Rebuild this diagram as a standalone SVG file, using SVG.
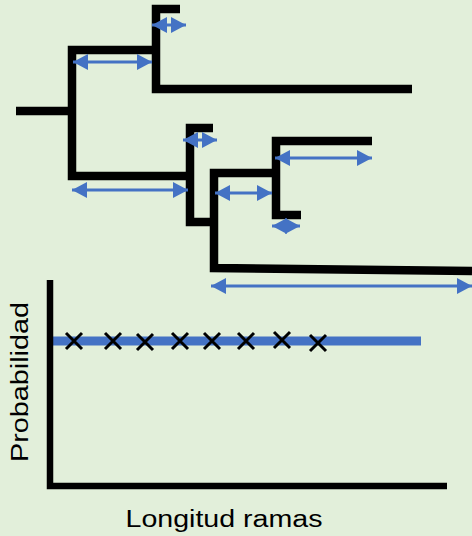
<svg xmlns="http://www.w3.org/2000/svg" width="472" height="536" viewBox="0 0 472 536">
<style>
.br{fill:none;stroke:#000;stroke-width:8.5;stroke-linejoin:miter;stroke-linecap:butt}
.ar{fill:none;stroke:#4472C4;stroke-width:3;marker-start:url(#ah);marker-end:url(#ah)}
.x{stroke:#000;stroke-width:3;fill:none}
.t{font-family:"Liberation Sans",Arial,sans-serif;font-size:23px;fill:#000}
</style>
<defs>
<marker id="ah" markerUnits="userSpaceOnUse" markerWidth="16" markerHeight="17" refX="15" refY="8" orient="auto-start-reverse" viewBox="0 0 16 17">
<path d="M0,0 L15,8 L0,16 z" fill="#4472C4"/>
</marker>
</defs>
<rect width="472" height="536" fill="#E2EFDA"/>
<g id="tree">
<g id="root"><path class="br" d="M16,111 H72"/></g>
<g id="nodeA"><path class="br" d="M160,50 H72 V176 H194"/></g>
<g id="nodeB"><path class="br" d="M180,9 H156 V89 H412"/></g>
<g id="nodeC"><path class="br" d="M213,128 H190 V222 H214"/></g>
<g id="nodeD"><path class="br" d="M276,173 H214 V268 L472,271"/></g>
<g id="nodeE"><path class="br" d="M372,141 H276 V215 H301"/></g>
</g>
<g id="connectors">
<line class="ar" x1="73" y1="62" x2="152" y2="62"/>
<line class="ar" x1="152" y1="25" x2="186" y2="25"/>
<line class="ar" x1="72" y1="190" x2="188" y2="190"/>
<line class="ar" x1="183" y1="140" x2="217" y2="140"/>
<line class="ar" x1="215" y1="193" x2="272" y2="193"/>
<line class="ar" x1="275" y1="158" x2="372" y2="158"/>
<line class="ar" x1="272" y1="226" x2="300" y2="226"/>
<line class="ar" x1="211" y1="286" x2="472" y2="286"/>
</g>
<g id="plot">
<path d="M49,341 H421" stroke="#4472C4" stroke-width="9" fill="none"/>
<path d="M50,280 V486 H447" fill="none" stroke="#000" stroke-width="6.5"/>
<g id="marks">
<path class="x" d="M66,333 L82,349 M82,333 L66,349"/>
<path class="x" d="M105,333 L121,349 M121,333 L105,349"/>
<path class="x" d="M137,334 L153,350 M153,334 L137,350"/>
<path class="x" d="M172,333 L188,349 M188,333 L172,349"/>
<path class="x" d="M204,333 L220,349 M220,333 L204,349"/>
<path class="x" d="M238,333 L254,349 M254,333 L238,349"/>
<path class="x" d="M274,332 L290,348 M290,332 L274,348"/>
<path class="x" d="M310,335 L326,351 M326,335 L310,351"/>
</g>
<text class="t" x="224" y="527" text-anchor="middle" textLength="197" lengthAdjust="spacingAndGlyphs">Longitud ramas</text>
<text class="t" transform="translate(28,382) rotate(-90)" text-anchor="middle" textLength="160" lengthAdjust="spacingAndGlyphs">Probabilidad</text>
</g>
</svg>
